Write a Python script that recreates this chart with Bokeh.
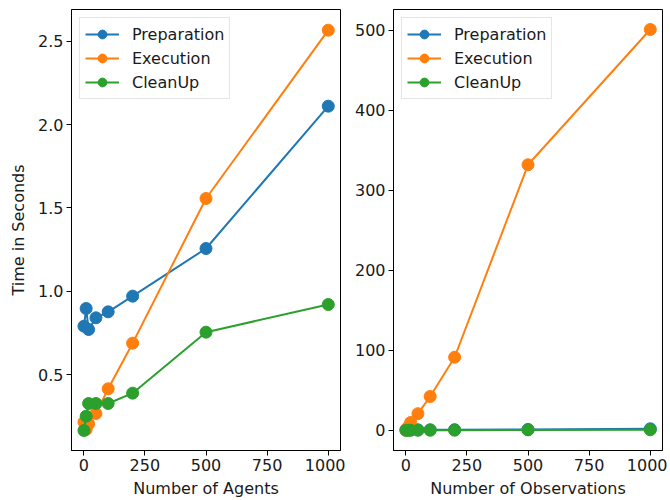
from bokeh.plotting import figure
from bokeh.layouts import row
from bokeh.models import FixedTicker, Legend, LegendItem, Range1d, NumeralTickFormatter
from bokeh.embed import file_html
from bokeh.resources import INLINE

# Left panel: number of agents
agents = [1, 10, 20, 50, 100, 200, 500, 1000]
agents_prep = [0.79, 0.896, 0.77, 0.84, 0.876, 0.97, 1.256, 2.11]
agents_exec = [0.214, 0.17, 0.204, 0.266, 0.414, 0.688, 1.556, 2.566]
agents_clean = [0.164, 0.25, 0.326, 0.326, 0.326, 0.388, 0.754, 0.92]

# Right panel: number of observations
obs = [1, 10, 20, 50, 100, 200, 500, 1000]
obs_prep = [0.8, 0.85, 0.8, 0.85, 0.9, 1.0, 1.3, 2.1]
obs_exec = [0.5, 4.5, 10.0, 21.0, 42.5, 91.5, 332.0, 501.0]
obs_clean = [0.2, 0.25, 0.3, 0.3, 0.35, 0.4, 0.75, 0.9]

series_names = ["Preparation", "Execution", "CleanUp"]
colors = ["#1f77b4", "#ff7f0e", "#2ca02c"]

x_ticks = [0, 250, 500, 750, 1000]
left_y_ticks = [0.5, 1.0, 1.5, 2.0, 2.5]
right_y_ticks = [0, 100, 200, 300, 400, 500]

FONT = "DejaVu Sans"
FS = "16px"


def make_panel(xs, ys_list, width, min_left, min_right, y_range, y_ticks, xlabel, ylabel, fmt=None):
    p = figure(width=width, height=500, output_backend="svg", toolbar_location=None,
               x_range=Range1d(-49.95, 1049.95), y_range=Range1d(*y_range),
               min_border_left=min_left, min_border_right=min_right,
               min_border_top=9, min_border_bottom=50)
    p.outline_line_color = "black"
    p.outline_line_width = 1
    p.xgrid.visible = False
    p.ygrid.visible = False
    p.background_fill_color = "white"
    p.border_fill_color = "white"
    p.xaxis.ticker = FixedTicker(ticks=x_ticks)
    p.yaxis.ticker = FixedTicker(ticks=y_ticks)
    for ax in [p.xaxis[0], p.yaxis[0]]:
        ax.major_label_text_font = FONT
        ax.major_label_text_font_size = FS
        ax.major_label_text_color = "#1a1a1a"
        ax.axis_label_text_font = FONT
        ax.axis_label_text_font_size = FS
        ax.axis_label_text_font_style = "normal"
        ax.axis_label_text_color = "#1a1a1a"
        ax.major_tick_out = 5
        ax.major_tick_in = 0
        ax.minor_tick_out = 0
        ax.minor_tick_in = 0
        ax.axis_line_color = "black"
        ax.major_tick_line_color = "black"
        ax.major_label_standoff = 3
    p.xaxis.axis_label_standoff = 5
    p.yaxis.axis_label_standoff = 7
    p.xaxis.axis_label = xlabel
    if ylabel:
        p.yaxis.axis_label = ylabel
    if fmt:
        p.yaxis.formatter = NumeralTickFormatter(format=fmt)

    items = []
    for name, ys, c in zip(series_names, ys_list, colors):
        l = p.line(xs, ys, line_color=c, line_width=2)
        s = p.scatter(xs, ys, size=12, fill_color=c, line_color=c)
        items.append(LegendItem(label=name, renderers=[l, s]))
    leg = Legend(items=items, location="top_left")
    leg.label_text_font = FONT
    leg.label_text_font_size = FS
    leg.label_text_color = "#1a1a1a"
    leg.glyph_width = 34
    leg.glyph_height = 22
    leg.label_height = 22
    leg.label_standoff = 13
    leg.spacing = 2
    leg.padding = 5
    leg.margin = 8
    leg.border_line_color = "#cccccc"
    leg.border_line_width = 1
    leg.background_fill_alpha = 0.8
    p.add_layout(leg)
    return p


left = make_panel(agents, [agents_prep, agents_exec, agents_clean], 345, 71, 5,
                  (0.044, 2.69), left_y_ticks, "Number of Agents", "Time in Seconds", "0.0")
right = make_panel(obs, [obs_prep, obs_exec, obs_clean], 322, 48, 5,
                   (-25.0, 526.0), right_y_ticks, "Number of Observations", None)

layout = row(left, right)
open("out.html", "w").write(file_html(layout, INLINE))
